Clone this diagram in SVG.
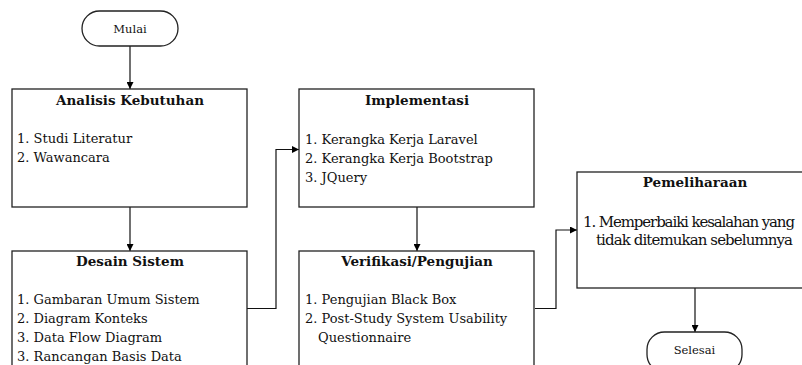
<svg xmlns="http://www.w3.org/2000/svg" width="802" height="365" viewBox="0 0 802 365">
<defs>
<marker id="ah" viewBox="0 0 10 10" refX="10" refY="5" markerWidth="7" markerHeight="7" markerUnits="userSpaceOnUse" orient="auto">
<path d="M0,0 L10,5 L0,10 z" fill="#000"/>
</marker>
<style>
.box{fill:#fff;stroke:#222;stroke-width:1.3}
.t{font-family:"DejaVu Serif","Liberation Serif",serif;font-size:13px;fill:#111}
.t2{font-family:"DejaVu Serif","Liberation Serif",serif;font-size:15px;fill:#111}
.h{font-family:"DejaVu Serif","Liberation Serif",serif;font-size:13.5px;font-weight:bold;fill:#111;text-anchor:middle}
.s{font-family:"DejaVu Serif","Liberation Serif",serif;font-size:11.5px;fill:#111;text-anchor:middle}
.c{fill:none;stroke:#111;stroke-width:1.2}
</style>
</defs>
<rect width="802" height="365" fill="#fff"/>
<g id="connectors">
<path class="c" d="M130,46 V89" marker-end="url(#ah)"/>
<path class="c" d="M130,207 V251" marker-end="url(#ah)"/>
<path class="c" d="M247,308.5 H276 V149.5 H299" marker-end="url(#ah)"/>
<path class="c" d="M417,207 V251" marker-end="url(#ah)"/>
<path class="c" d="M535,308.5 H556 V230 H577" marker-end="url(#ah)"/>
<path class="c" d="M695,288 V332" marker-end="url(#ah)"/>
</g>
<g id="mulai">
<rect class="box" x="82" y="11" width="96" height="35" rx="17.5"/>
<text class="s" x="130" y="32.5">Mulai</text>
</g>
<g id="analisis">
<rect class="box" x="12" y="89" width="235" height="118"/>
<text class="h" x="130" y="105">Analisis Kebutuhan</text>
<text class="t" x="17" y="143">1. Studi Literatur</text>
<text class="t" x="17" y="162">2. Wawancara</text>
</g>
<g id="desain">
<rect class="box" x="12" y="251" width="235" height="130"/>
<text class="h" x="130" y="266">Desain Sistem</text>
<text class="t" x="17" y="304">1. Gambaran Umum Sistem</text>
<text class="t" x="17" y="323">2. Diagram Konteks</text>
<text class="t" x="17" y="342">3. Data Flow Diagram</text>
<text class="t" x="17" y="361">3. Rancangan Basis Data</text>
</g>
<g id="implementasi">
<rect class="box" x="299" y="89" width="235" height="118"/>
<text class="h" x="417" y="105">Implementasi</text>
<text class="t" x="305" y="144">1. Kerangka Kerja Laravel</text>
<text class="t" x="305" y="163">2. Kerangka Kerja Bootstrap</text>
<text class="t" x="305" y="182">3. JQuery</text>
</g>
<g id="verifikasi">
<rect class="box" x="299" y="251" width="235" height="130"/>
<text class="h" x="417" y="266">Verifikasi/Pengujian</text>
<text class="t" x="305" y="304">1. Pengujian Black Box</text>
<text class="t" x="305" y="323">2. Post-Study System Usability</text>
<text class="t" x="318" y="342">Questionnaire</text>
</g>
<g id="pemeliharaan">
<rect class="box" x="577" y="172" width="240" height="116"/>
<text class="h" x="695" y="187">Pemeliharaan</text>
<text class="t2" x="583" y="227" textLength="212">1. Memperbaiki kesalahan yang</text>
<text class="t2" x="596" y="245" textLength="197">tidak ditemukan sebelumnya</text>
</g>
<g id="selesai">
<rect class="box" x="647" y="332" width="95" height="40" rx="17.5"/>
<text class="s" x="694.5" y="354">Selesai</text>
</g>
</svg>
